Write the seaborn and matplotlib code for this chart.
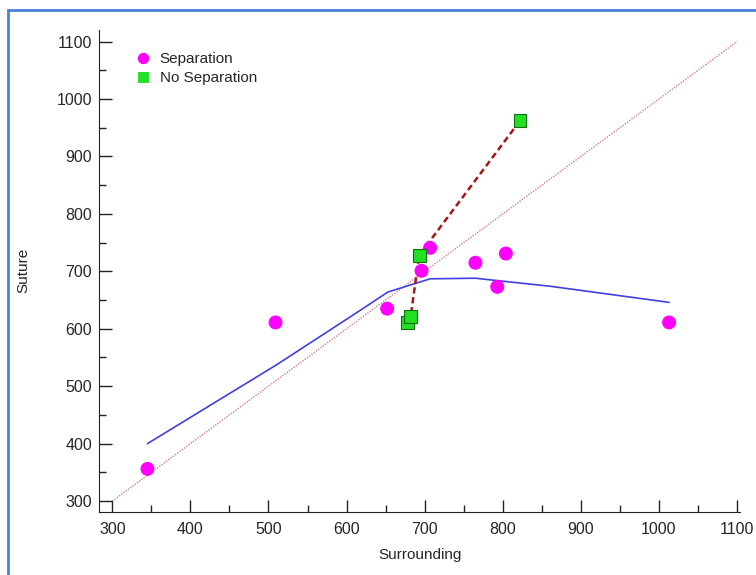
import pandas as pd
import seaborn as sns
import matplotlib.pyplot as plt
import matplotlib.ticker as ticker
from matplotlib.patches import Rectangle

sns.set_style("ticks")
plt.rcParams['font.family'] = ['Liberation Sans', 'DejaVu Sans']

# Separation group
sep_x = [345, 509, 652, 696, 707, 765, 793, 804, 1013]
sep_y = [356, 611, 635, 701, 741, 715, 673, 731, 611]

# No separation group
nosep_x = [678, 682, 693, 822]
nosep_y = [611, 621, 728, 962]

# smoothed fit (blue curve)
fit_x = [345, 510, 605, 653, 707, 765, 861, 1013]
fit_y = [400, 537, 621, 664, 687, 688, 674, 646]

# identity reference
ref_x = [300, 1100]
ref_y = [300, 1100]

pts = pd.DataFrame({
    "Surrounding": sep_x + nosep_x,
    "Suture": sep_y + nosep_y,
    "group": ["Separation"] * len(sep_x) + ["No Separation"] * len(nosep_x),
})

fig = plt.figure(figsize=(7.56, 5.75), dpi=100)
ax = fig.add_axes([0.131, 0.1096, 0.848, 0.839])

sns.lineplot(x=ref_x, y=ref_y, ax=ax, color="#d08080", lw=1, linestyle=(0, (1, 1)))
sns.lineplot(x=fit_x, y=fit_y, ax=ax, color="#4040e0", lw=1.2, sort=False)
sns.lineplot(x=nosep_x, y=nosep_y, ax=ax, color="#a01818", lw=1.8,
             linestyle=(0, (2.5, 1.5)), sort=False)
sns.scatterplot(data=pts, x="Surrounding", y="Suture", hue="group", style="group",
                palette={"Separation": "#ff00ff", "No Separation": "#22e022"},
                markers={"Separation": "o", "No Separation": "s"},
                s=85, linewidth=0.8, ax=ax, zorder=5)

# edge colours per group
coll = ax.collections[-1]
coll.set_edgecolors(["#ff00ff"] * len(sep_x) + ["#107010"] * len(nosep_x))

ax.set_xlim(283, 1104)
ax.set_ylim(281, 1121)
ax.xaxis.set_minor_locator(ticker.MultipleLocator(50))
ax.yaxis.set_minor_locator(ticker.MultipleLocator(50))
ax.set_xticks(range(300, 1101, 100))
ax.set_yticks(range(300, 1101, 100))
ax.tick_params(which="major", direction="in", length=9, width=1, labelsize=11.5, color="#222222")
ax.tick_params(axis="x", which="major", pad=7)
ax.tick_params(axis="y", which="major", pad=5)
ax.tick_params(which="minor", direction="in", length=5, width=1, color="#222222")
sns.despine(ax=ax)
for s in ["left", "bottom"]:
    ax.spines[s].set_color("#222222")

ax.set_xlabel("Surrounding", fontsize=11, labelpad=8)
ax.set_ylabel("Suture", fontsize=11, labelpad=19)

h, l = ax.get_legend_handles_labels()
leg = ax.legend(h, l, loc="upper left", bbox_to_anchor=(0.035, 0.966), frameon=False,
                fontsize=11, handletextpad=0.1, labelspacing=0.35, borderaxespad=0)
for hd in leg.legend_handles:
    hd.set_markersize(9)

fig.patches.append(Rectangle((8 / 756, -0.05), 1.1, 1 - 10 / 575 + 0.05, transform=fig.transFigure,
                             fill=False, edgecolor="#4a80d8", lw=2))

fig.savefig("out.png", dpi=100)
